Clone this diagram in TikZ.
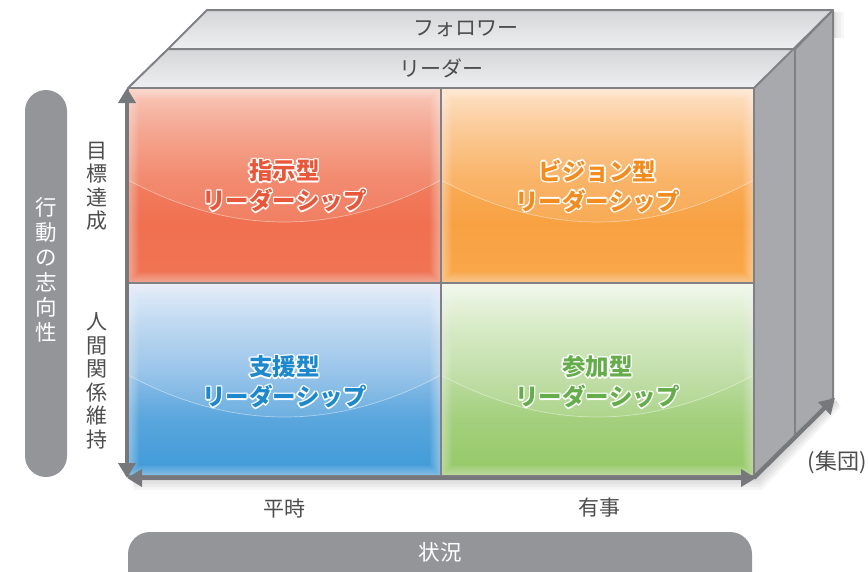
\documentclass[tikz,border=0pt]{standalone}
\usepackage{fontspec}
\newfontfamily\jp{Noto Sans CJK JP}
\usetikzlibrary{arrows.meta}
\definecolor{linegray}{HTML}{808184}
\definecolor{arrowgray}{HTML}{77787B}
\definecolor{sidegray}{HTML}{A7A9AC}
\definecolor{pillgray}{HTML}{939598}
\definecolor{textgray}{HTML}{4D4D4F}
\definecolor{slabtop}{HTML}{D5D6D8}
\definecolor{slabbot}{HTML}{EEEFF0}
\definecolor{rq0}{HTML}{F9C4B4}\definecolor{rq1}{HTML}{F4A088}\definecolor{rq2}{HTML}{F17E60}\definecolor{rq3}{HTML}{F07050}\definecolor{rq4}{HTML}{F07454}
\definecolor{oq0}{HTML}{FDE0C2}\definecolor{oq1}{HTML}{FBC68E}\definecolor{oq2}{HTML}{F9AC58}\definecolor{oq3}{HTML}{F8A142}\definecolor{oq4}{HTML}{F9A84A}
\definecolor{bq0}{HTML}{E2ECF8}\definecolor{bq1}{HTML}{BAD6F0}\definecolor{bq2}{HTML}{8EBEE8}\definecolor{bq3}{HTML}{5AA6DD}\definecolor{bq4}{HTML}{3D9AD8}
\definecolor{gq0}{HTML}{F2F7EC}\definecolor{gq1}{HTML}{D6EAC4}\definecolor{gq2}{HTML}{BDDCA2}\definecolor{gq3}{HTML}{A4D07E}\definecolor{gq4}{HTML}{95C866}
\definecolor{redtxt}{HTML}{E9573A}
\definecolor{orgtxt}{HTML}{F28C1E}
\definecolor{blutxt}{HTML}{1E88CC}
\definecolor{grntxt}{HTML}{64AD4A}
\pgfdeclareverticalshading{redq}{100bp}{color(0bp)=(rq4); color(25bp)=(rq4); color(40bp)=(rq3); color(52bp)=(rq2); color(65bp)=(rq1); color(75bp)=(rq0); color(100bp)=(rq0)}
\pgfdeclareverticalshading{orgq}{100bp}{color(0bp)=(oq4); color(25bp)=(oq4); color(40bp)=(oq3); color(52bp)=(oq2); color(65bp)=(oq1); color(75bp)=(oq0); color(100bp)=(oq0)}
\pgfdeclareverticalshading{bluq}{100bp}{color(0bp)=(bq4); color(25bp)=(bq4); color(40bp)=(bq3); color(52bp)=(bq2); color(65bp)=(bq1); color(75bp)=(bq0); color(100bp)=(bq0)}
\pgfdeclareverticalshading{grnq}{100bp}{color(0bp)=(gq4); color(25bp)=(gq4); color(40bp)=(gq3); color(52bp)=(gq2); color(65bp)=(gq1); color(75bp)=(gq0); color(100bp)=(gq0)}
% white halo text: white copies around the coloured text
\newcommand\outl[2]{\leavevmode\setbox0=\hbox{#2}%
\rlap{\color{white}\hspace*{-1.4pt}\copy0}%
\rlap{\color{white}\hspace*{1.4pt}\copy0}%
\rlap{\color{white}\raisebox{1.4pt}{\copy0}}%
\rlap{\color{white}\raisebox{-1.4pt}{\copy0}}%
\rlap{\color{white}\hspace*{1pt}\raisebox{1pt}{\copy0}}%
\rlap{\color{white}\hspace*{-1pt}\raisebox{1pt}{\copy0}}%
\rlap{\color{white}\hspace*{1pt}\raisebox{-1pt}{\copy0}}%
\rlap{\color{white}\hspace*{-1pt}\raisebox{-1pt}{\copy0}}%
{\color{#1}\copy0}}
\newcommand\quadglow[5]{% x0 y0 x1 y1 shading
\shade[shading=#5] (#1,#2) rectangle (#3,#4);
\begin{scope}
\clip (#1,#2) rectangle (#3,#4);
\fill[white,opacity=.10] (#1,#2) -- (#1,#2+92) .. controls (#1+104.3,#2+148) and (#3-104.3,#2+148) .. (#3,#2+92) -- (#3,#2) -- cycle;
\draw[white,opacity=.45,line width=.7pt] (#1,#2+92) .. controls (#1+104.3,#2+148) and (#3-104.3,#2+148) .. (#3,#2+92);
\foreach \w in {2,4,...,22}{\draw[white,opacity=.045,line width=\w pt] (#1,#2) rectangle (#3,#4);}
\end{scope}}
\begin{document}
\begin{tikzpicture}[x=1pt,y=-1pt,
  edge/.style={linegray,line width=2pt,line join=round},
  axis/.style={arrowgray,line width=4pt,{Triangle[width=17pt,length=15pt]}-{Triangle[width=17pt,length=15pt]}},
  toplbl/.style={font=\jp\fontsize{21}{24}\selectfont,text=textgray,inner sep=0},
  axlbl/.style={font=\jp\fontsize{21}{23.5}\selectfont,text=textgray,inner sep=0,align=center},
  pilllbl/.style={font=\jp\fontsize{21.5}{25}\selectfont,text=white,inner sep=0,align=center},
  qlbl/.style={font=\jp\bfseries\fontsize{23.5}{30}\selectfont,inner sep=0,align=center},
  shadow/.style={black,opacity=.04}]
\useasboundingbox (0,0) rectangle (868,571);
% soft shadows
\foreach \d in {3,6,9,12}{
  \fill[shadow] (132,478) -- (756,478) -- (836,400) -- (836+\d*0.4,400+\d*0.6) -- (758+\d*0.3,478+\d) -- (134,478+\d) -- cycle;
  \fill[shadow,opacity=.03] (833,12) rectangle (833+\d*0.9,38);
}
% side face
\fill[sidegray] (754,88) -- (833,10) -- (833,398) -- (754,476) -- cycle;
% top slabs
\shade[top color=slabtop,bottom color=slabbot] (168,49) -- (207,10) -- (833,10) -- (795,49) -- cycle;
\shade[top color=slabtop,bottom color=slabbot] (128,88) -- (168,49) -- (795,49) -- (754,88) -- cycle;
% quadrants
\quadglow{128}{88}{441}{283}{redq}
\quadglow{441}{88}{754}{283}{orgq}
\quadglow{128}{283}{441}{476}{bluq}
\quadglow{441}{283}{754}{476}{grnq}
% outlines
\draw[edge] (128,88) rectangle (754,476);
\draw[edge] (441,88) -- (441,476);
\draw[edge] (128,283) -- (754,283);
\draw[edge] (754,88) -- (833,10) -- (833,398) -- (754,476);
\draw[edge] (128,88) -- (168,49) -- (207,10) -- (833,10);
\draw[edge] (168,49) -- (795,49) -- (833,10);
\draw[edge] (795,49) -- (795,435.5);
% axes
\coordinate (vt) at (127,88);
\coordinate (vb) at (127,478);
\coordinate (hl) at (127,478);
\coordinate (hr) at (756,478);
\coordinate (dl) at (754,478);
\coordinate (dr) at (835,398);
\draw[axis] (vt) -- (vb);
\draw[axis] (hl) -- (hr);
\draw[arrowgray,line width=4pt,-{Triangle[width=17pt,length=15pt]}] (dl) -- (dr);
% top labels
\node[toplbl] (fol) at (466,29) {フォロワー};
\node[toplbl] (lead) at (441,68) {リーダー};
% quadrant labels
\node[qlbl] (q1) at (284.5,186) {\outl{redtxt}{指示型}\\\outl{redtxt}{リーダーシップ}};
\node[qlbl] (q2) at (597.5,186) {\outl{orgtxt}{ビジョン型}\\\outl{orgtxt}{リーダーシップ}};
\node[qlbl] (q3) at (284.5,382) {\outl{blutxt}{支援型}\\\outl{blutxt}{リーダーシップ}};
\node[qlbl] (q4) at (597.5,382) {\outl{grntxt}{参加型}\\\outl{grntxt}{リーダーシップ}};
% left labels
\node[fill=pillgray,rounded corners=21pt,minimum width=42pt,minimum height=387pt,inner sep=0] (lpill) at (46,283.5) {};
\node[pilllbl] (orient) at (46,270) {行\\動\\の\\志\\向\\性};
\node[axlbl] (goal) at (97,186) {目\\標\\達\\成};
\node[axlbl] (human) at (97,381) {人\\間\\関\\係\\維\\持};
% bottom labels
\node[toplbl] (peace) at (284,508) {平時};
\node[toplbl] (crisis) at (599,508) {有事};
\fill[pillgray,rounded corners=22pt] (128,532) rectangle (752,610);
\node[pilllbl] (situ) at (440,552) {状況};
\node[toplbl,anchor=east,font=\jp\fontsize{22}{24}\selectfont] (group) at (867,462) {(集団)};
\end{tikzpicture}
\end{document}
